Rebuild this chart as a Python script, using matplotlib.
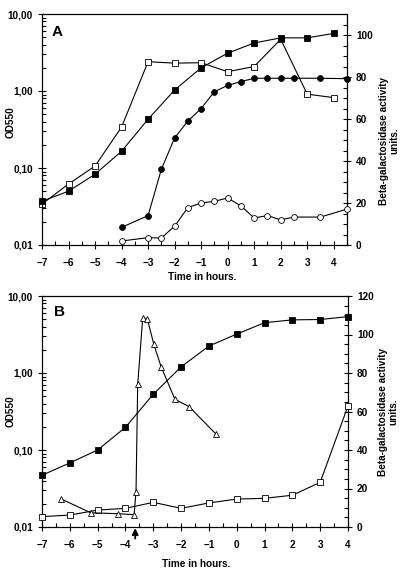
import matplotlib
matplotlib.use("Agg")
import matplotlib.pyplot as plt
from matplotlib.ticker import FixedLocator, MultipleLocator, LogLocator, NullFormatter, FixedFormatter

plt.rcParams['font.family'] = ['Liberation Sans', 'DejaVu Sans']
plt.rcParams['font.weight'] = 'bold'

# ---------------- Panel A data ----------------
a_fsq_t = [-7, -6, -5, -4, -3, -2, -1, 0, 1, 2, 3, 4]
a_fsq_od = [0.037, 0.050, 0.083, 0.165, 0.43, 1.03, 2.0, 3.1, 4.2, 4.9, 4.9, 5.6]

a_osq_t = [-7, -6, -5, -4, -3, -2, -1, 0, 1, 2, 3, 4]
a_osq_od = [0.034, 0.062, 0.106, 0.34, 2.4, 2.3, 2.33, 1.78, 2.08, 4.7, 0.91, 0.82]

a_fci_t = [-4, -3, -2.5, -2, -1.5, -1, -0.5, 0, 0.5, 1, 1.5, 2, 2.5, 3.5, 4.5]
a_fci_act = [8.4, 14, 36, 51, 59, 65, 73, 76, 77.8, 79.4, 79.4, 79.4, 79.4, 79.4, 79.2]

a_oci_t = [-4, -3, -2.5, -2, -1.5, -1, -0.5, 0, 0.5, 1, 1.5, 2, 2.5, 3.5, 4.5]
a_oci_act = [1.9, 3.5, 3.3, 9, 17.8, 20, 20.8, 22.4, 18.6, 12.9, 14, 12, 13.3, 13.3, 17.1]

# ---------------- Panel B data ----------------
b_fsq_t = [-7, -6, -5, -4, -3, -2, -1, 0, 1, 2, 3, 4]
b_fsq_od = [0.047, 0.068, 0.10, 0.197, 0.53, 1.2, 2.24, 3.2, 4.5, 4.9, 4.95, 5.4]

b_osq_t = [-7, -6, -5, -4, -3, -2, -1, 0, 1, 2, 3, 4]
b_osq_act = [5.4, 6.2, 8.8, 9.7, 12.8, 9.7, 12.5, 14.5, 14.9, 16.5, 23.2, 62.9]

b_tri_t = [-6.3, -5.25, -4.26, -3.69, -3.62, -3.56, -3.38, -3.21, -2.98, -2.72, -2.22, -1.71, -0.74]
b_tri_act = [14.5, 7.4, 6.9, 6.4, 18.3, 74.1, 108.7, 107.9, 94.9, 83.3, 66.3, 62.5, 48.2]

od_ticks = [0.01, 0.1, 1, 10]
od_labels = ["0,01", "0,10", "1,00", "10,00"]

W, H = 408, 573
fig = plt.figure(figsize=(W / 100, H / 100), dpi=100)

FS = 7.2
LW = 0.8


def frac(l, t, r, b):
    return [l / W, 1 - b / H, (r - l) / W, (b - t) / H]


def style_left(ax):
    ax.set_yscale('log')
    ax.set_ylim(0.01, 10)
    ax.yaxis.set_major_locator(FixedLocator(od_ticks))
    ax.yaxis.set_major_formatter(FixedFormatter(od_labels))
    ax.yaxis.set_minor_locator(LogLocator(base=10, subs=range(2, 10), numticks=20))
    ax.yaxis.set_minor_formatter(NullFormatter())
    ax.tick_params(axis='both', which='major', direction='inout', length=6, width=LW, labelsize=FS)
    ax.tick_params(axis='both', which='minor', direction='in', length=3, width=LW)
    ax.tick_params(axis='x', which='major', pad=6)
    for lab in ax.get_xticklabels() + ax.get_yticklabels():
        lab.set_fontweight('bold')
    for s in ax.spines.values():
        s.set_linewidth(LW)


def style_right(ax2, top, major):
    ax2.set_ylim(0, top)
    ax2.yaxis.set_major_locator(MultipleLocator(major))
    ax2.yaxis.set_minor_locator(MultipleLocator(5))
    ax2.tick_params(axis='y', which='major', direction='inout', length=6, width=LW, labelsize=FS)
    ax2.tick_params(axis='y', which='minor', direction='in', length=3, width=LW)
    for lab in ax2.get_yticklabels():
        lab.set_fontweight('bold')


mk = dict(color='black', lw=LW, clip_on=False, zorder=3)
sq_f = dict(marker='s', ms=4.6, mfc='black', mec='black', mew=0.6)
sq_o = dict(marker='s', ms=4.6, mfc='white', mec='black', mew=0.6)
ci_f = dict(marker='o', ms=4.2, mfc='black', mec='black', mew=0.6)
ci_o = dict(marker='o', ms=4.2, mfc='white', mec='black', mew=0.6)
tri_o = dict(marker='^', ms=4.8, mfc='white', mec='black', mew=0.6)

# ---------------- Panel A ----------------
axA = fig.add_axes(frac(42, 14, 347, 245))
axA.set_xlim(-7, 4.5)
axA.xaxis.set_major_locator(FixedLocator(range(-7, 5)))
axA.xaxis.set_minor_locator(MultipleLocator(0.5))
axA2 = axA.twinx()
axA2.set_zorder(axA.get_zorder() + 1)
style_left(axA)
style_right(axA2, 110, 20)
axA.plot(a_osq_t, a_osq_od, **mk, **sq_o)
axA.plot(a_fsq_t, a_fsq_od, **mk, **sq_f)
axA2.plot(a_fci_t, a_fci_act, **mk, **ci_f)
axA2.plot(a_oci_t, a_oci_act, **mk, **ci_o)
axA.set_ylabel("OD550", fontsize=FS, fontweight='bold')
axA.yaxis.set_label_coords(-0.085, 0.53)
axA2.set_ylabel("Beta-galactosidase activity\nunits.", fontsize=FS, fontweight='bold',
                linespacing=1.0)
axA2.yaxis.set_label_coords(1.105, 0.45)
axA.set_xlabel("Time in hours.", fontsize=FS, fontweight='bold')
axA.xaxis.set_label_coords(0.525, -0.117)
axA.text(57 / W, 1 - 32 / H, "A", transform=fig.transFigure, fontsize=11,
         fontweight='bold', ha='center', va='center')

# ---------------- Panel B ----------------
axB = fig.add_axes(frac(42, 296, 348, 527))
axB.set_xlim(-7, 4)
axB.xaxis.set_major_locator(FixedLocator(range(-7, 5)))
axB.xaxis.set_minor_locator(MultipleLocator(0.5))
axB2 = axB.twinx()
axB2.set_zorder(axB.get_zorder() + 1)
style_left(axB)
style_right(axB2, 120, 20)
axB.plot(b_fsq_t, b_fsq_od, **mk, **sq_f)
axB2.plot(b_osq_t, b_osq_act, **mk, **sq_o)
axB2.plot(b_tri_t, b_tri_act, **mk, **tri_o)
axB.set_ylabel("OD550", fontsize=FS, fontweight='bold')
axB.yaxis.set_label_coords(-0.085, 0.5)
axB2.set_ylabel("Beta-galactosidase activity\nunits.", fontsize=FS, fontweight='bold',
                linespacing=1.0)
axB2.yaxis.set_label_coords(1.098, 0.498)
axB.set_xlabel("Time in hours.", fontsize=FS, fontweight='bold')
axB.xaxis.set_label_coords(0.505, -0.137)
axB.text(59 / W, 1 - 312 / H, "B", transform=fig.transFigure, fontsize=11,
         fontweight='bold', ha='center', va='center')

# arrow below B axis at treatment time
axB.annotate("", xy=(-3.65, -0.005), xycoords=('data', 'axes fraction'),
             xytext=(-3.65, -0.05), textcoords=('data', 'axes fraction'),
             arrowprops=dict(arrowstyle='-|>', color='black', lw=1.3,
                             mutation_scale=9, shrinkA=0, shrinkB=0),
             annotation_clip=False)

fig.savefig("out.png", dpi=100)
